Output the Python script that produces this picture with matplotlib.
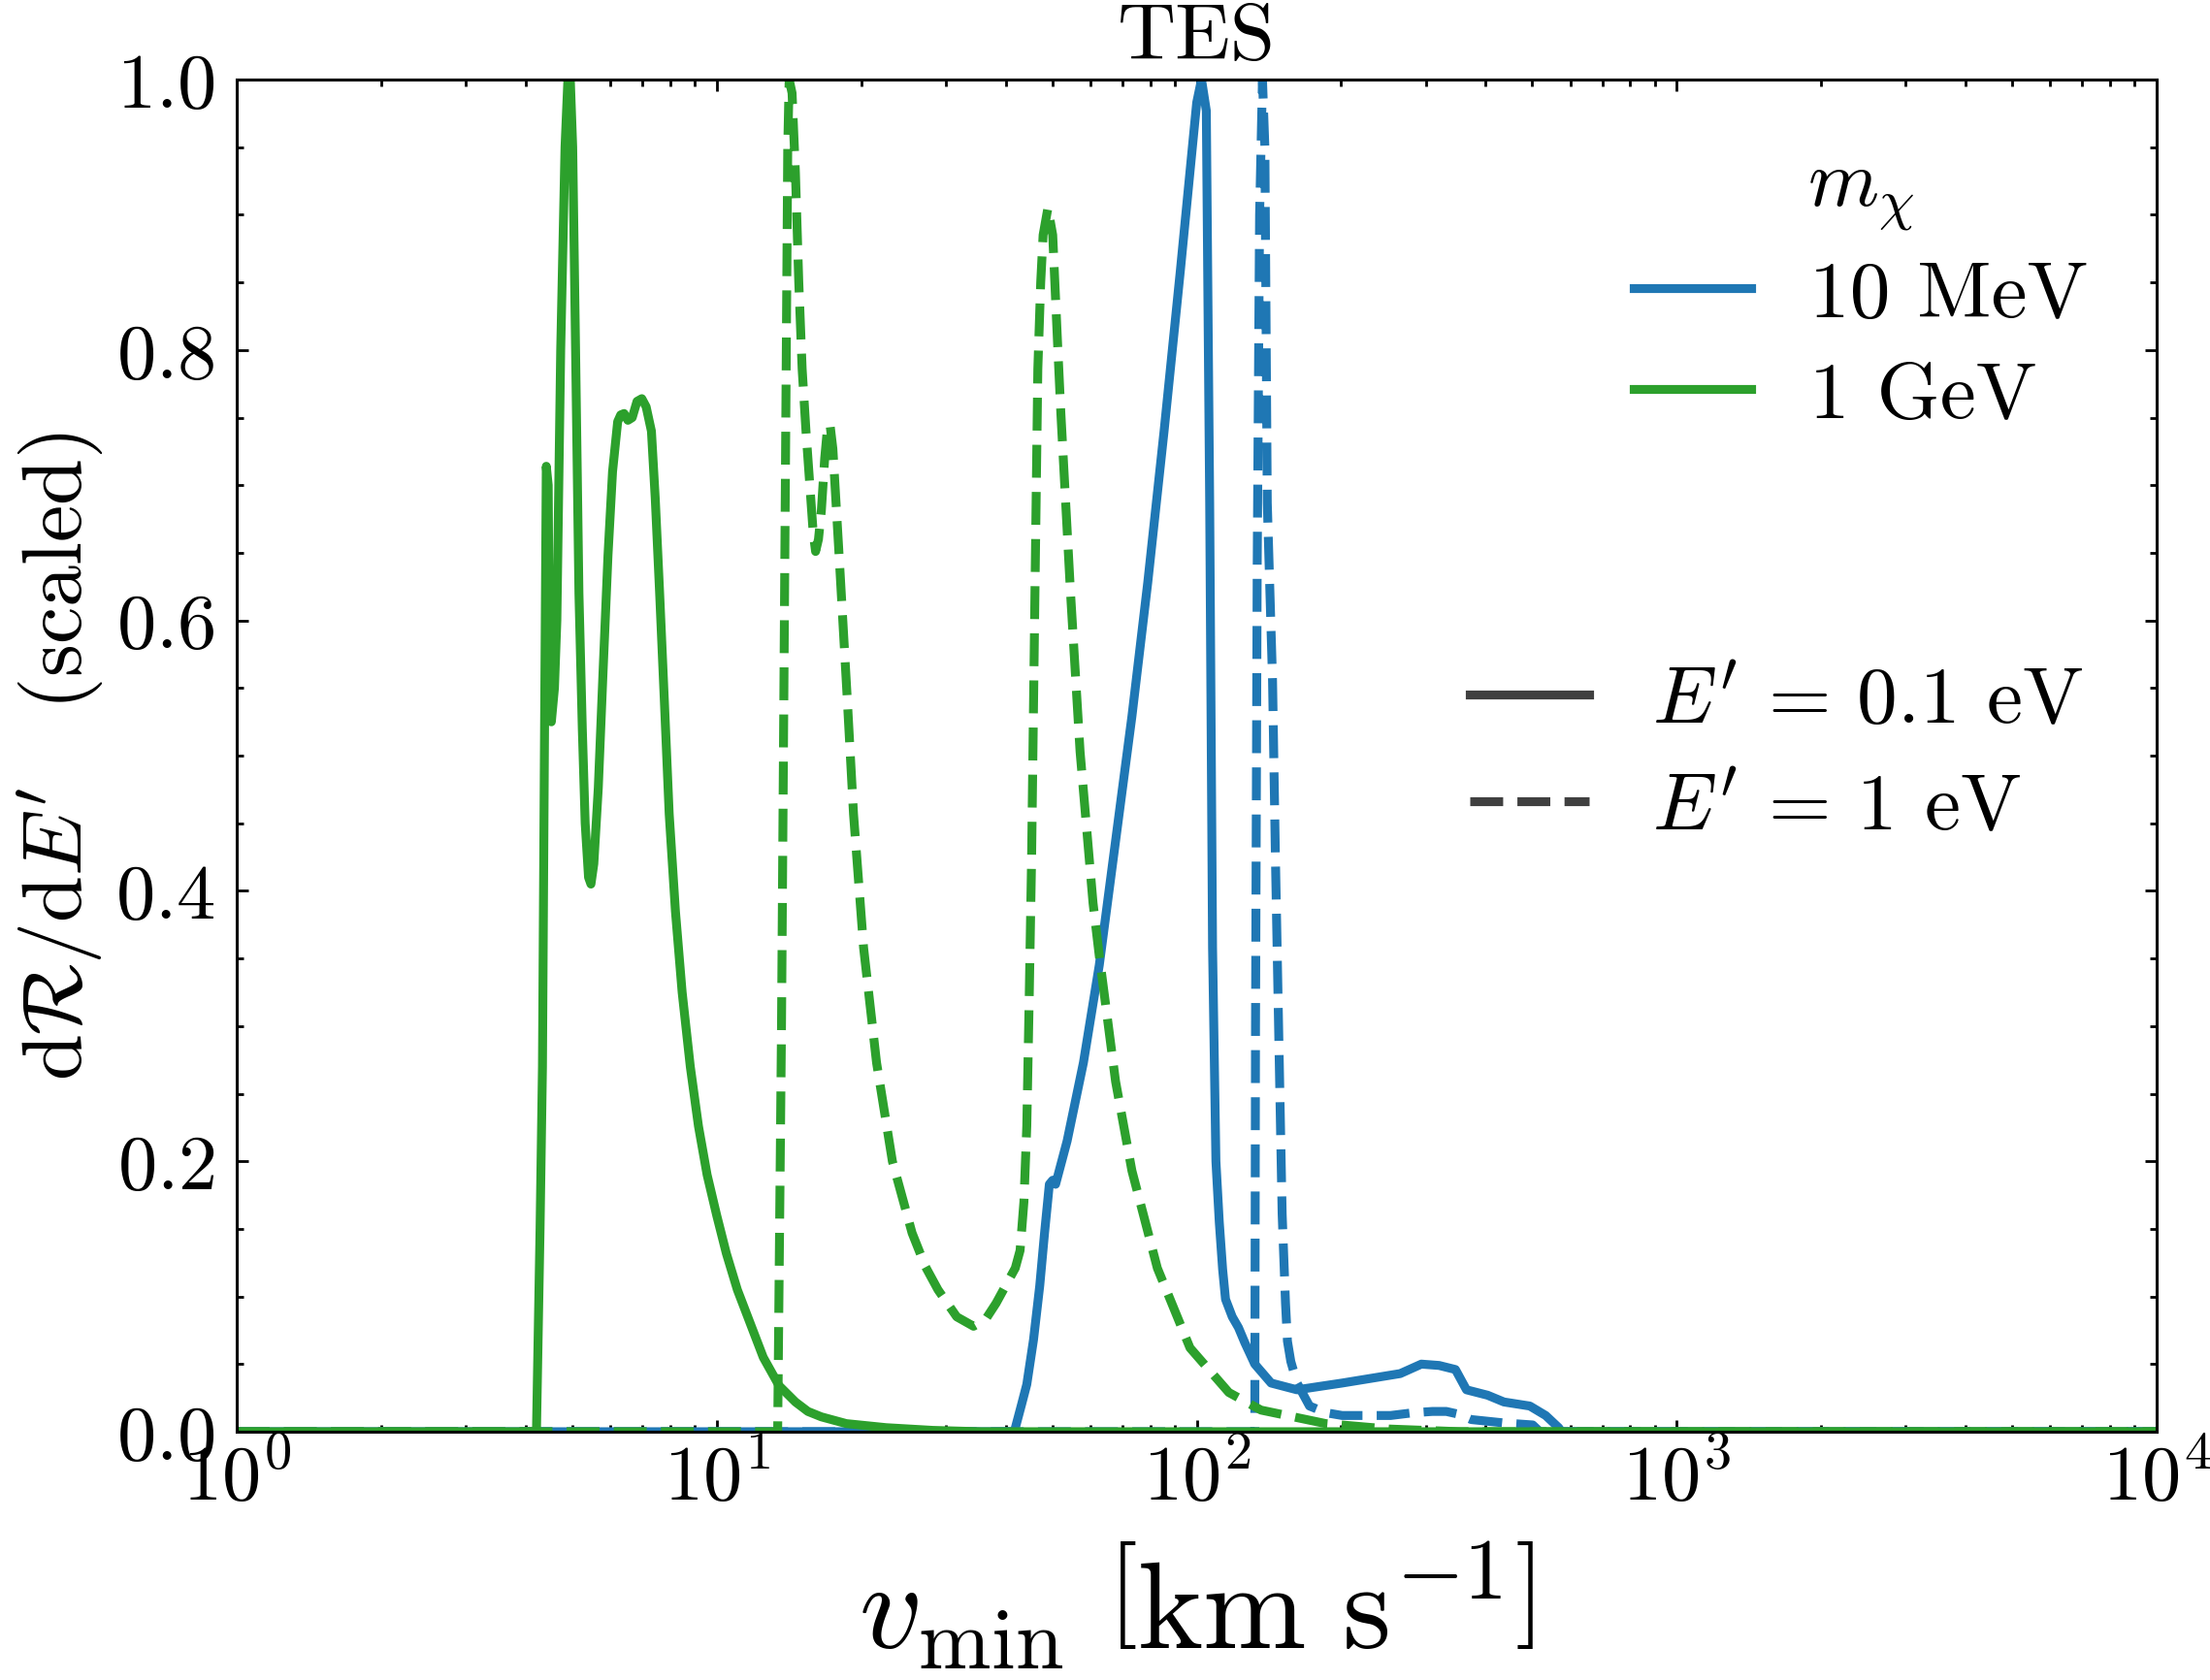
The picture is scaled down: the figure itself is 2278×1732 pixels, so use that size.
import numpy as np
import matplotlib
matplotlib.use('Agg')
import matplotlib.pyplot as plt
from matplotlib.lines import Line2D
from matplotlib.ticker import LogLocator, MultipleLocator, NullFormatter

plt.rcParams['font.family'] = 'serif'
plt.rcParams['font.serif'] = ['cmr10']
plt.rcParams['mathtext.fontset'] = 'cm'
plt.rcParams['axes.formatter.use_mathtext'] = True
plt.rcParams['axes.unicode_minus'] = False

# data: log10(v_min / km s^-1) and scaled rate
# 1 GeV, E' = 0.1 eV
lv_g1 = [0.0, 0.6245, 0.632, 0.637, 0.641, 0.645, 0.649, 0.652, 0.6555, 0.662, 0.667,
         0.675, 0.684, 0.690, 0.695, 0.700, 0.706, 0.713, 0.720, 0.726, 0.733, 0.738,
         0.744, 0.7533, 0.763, 0.7735, 0.783, 0.7937, 0.800, 0.807, 0.815, 0.824, 0.834,
         0.844, 0.853, 0.864, 0.872, 0.881, 0.891, 0.901, 0.914, 0.928, 0.945, 0.962,
         0.980, 1.0, 1.02, 1.043, 1.07, 1.097, 1.13, 1.164, 1.19, 1.218, 1.27, 1.353,
         1.45, 1.55, 4.0]
r_g1 = [0.0, 0.0, 0.15, 0.27, 0.50, 0.714, 0.70, 0.53, 0.525, 0.55, 0.60,
        0.80, 0.95, 1.0, 1.0, 0.95, 0.80, 0.62, 0.52, 0.45, 0.41, 0.405,
        0.42, 0.476, 0.56, 0.648, 0.71, 0.747, 0.752, 0.753, 0.748, 0.75, 0.762,
        0.764, 0.758, 0.74, 0.69, 0.621, 0.54, 0.457, 0.385, 0.325, 0.27, 0.226,
        0.19, 0.16, 0.132, 0.105, 0.08, 0.055, 0.034, 0.022, 0.015, 0.011, 0.006, 0.003,
        0.001, 0.0, 0.0]

# 1 GeV, E' = 1 eV
lv_g2 = [0.0, 1.127, 1.135, 1.142, 1.148, 1.151, 1.157, 1.164, 1.171, 1.178, 1.186,
         1.194, 1.201, 1.206, 1.212, 1.218, 1.225, 1.231, 1.236, 1.242, 1.255, 1.272,
         1.285, 1.306, 1.333, 1.366, 1.407, 1.435, 1.461, 1.50, 1.535, 1.56, 1.582,
         1.602, 1.622, 1.632, 1.640, 1.646, 1.651, 1.656, 1.663, 1.669, 1.675, 1.680,
         1.690, 1.700, 1.710, 1.717, 1.737, 1.757, 1.784, 1.797, 1.831, 1.865, 1.918,
         1.986, 2.067, 2.134, 2.269, 2.4, 2.55, 4.0]
r_g2 = [0.0, 0.0, 0.30, 0.65, 0.95, 1.0, 0.99, 0.931, 0.85, 0.786, 0.74,
        0.70, 0.665, 0.651, 0.66, 0.681, 0.72, 0.743, 0.745, 0.727, 0.648, 0.542,
        0.457, 0.358, 0.273, 0.200, 0.147, 0.122, 0.105, 0.085, 0.078, 0.083, 0.095,
        0.108, 0.121, 0.134, 0.17, 0.226, 0.32, 0.424, 0.621, 0.786, 0.85, 0.885,
        0.905, 0.885, 0.806, 0.753, 0.621, 0.503, 0.391, 0.352, 0.259, 0.193, 0.121,
        0.062, 0.029, 0.016, 0.006, 0.002, 0.0, 0.0]

# 10 MeV, E' = 0.1 eV
lv_b1 = [0.0, 1.620, 1.635, 1.646, 1.660, 1.673, 1.683, 1.693, 1.700, 1.706, 1.715,
         1.730, 1.764, 1.797, 1.831, 1.865, 1.898, 1.932, 1.966, 2.000, 2.010, 2.020,
         2.027, 2.033, 2.040, 2.047, 2.054, 2.060, 2.074, 2.087, 2.10, 2.121, 2.155,
         2.209, 2.303, 2.424, 2.468, 2.505, 2.539, 2.562, 2.606, 2.640, 2.694, 2.727,
         2.754, 2.76, 4.0]
r_b1 = [0.0, 0.0, 0.02, 0.035, 0.068, 0.108, 0.147, 0.183, 0.186, 0.183, 0.195,
        0.215, 0.273, 0.345, 0.437, 0.529, 0.628, 0.74, 0.859, 0.983, 1.0, 0.977,
        0.687, 0.358, 0.20, 0.155, 0.12, 0.098, 0.085, 0.077, 0.066, 0.050, 0.036,
        0.031, 0.036, 0.043, 0.050, 0.049, 0.046, 0.031, 0.027, 0.022, 0.019, 0.012,
        0.003, 0.0, 0.0]

# 10 MeV, E' = 1 eV
lv_b2 = [0.0, 2.121, 2.1225, 2.126, 2.131, 2.137, 2.142, 2.147, 2.158, 2.164, 2.171,
         2.178, 2.185, 2.189, 2.196, 2.209, 2.235, 2.27, 2.303, 2.404, 2.45, 2.491,
         2.52, 2.545, 2.572, 2.640, 2.700, 2.715, 4.0]
r_b2 = [0.0, 0.0, 0.30, 0.64, 0.90, 1.0, 0.95, 0.687, 0.555, 0.424, 0.292,
        0.161, 0.095, 0.067, 0.052, 0.036, 0.019, 0.014, 0.012, 0.012, 0.014, 0.015,
        0.015, 0.013, 0.009, 0.0065, 0.005, 0.0, 0.0]

c_blue = '#1f77b4'
c_green = '#2ca02c'
lw = 3.3

fig, ax = plt.subplots(figsize=(11.39, 8.665), dpi=200)
fig.subplots_adjust(left=0.1071, right=0.9759, bottom=0.1477, top=0.9521)

ax.plot(10**np.array(lv_b1), r_b1, color=c_blue, lw=lw, ls='-')
ax.plot(10**np.array(lv_b2), r_b2, color=c_blue, lw=lw, ls='--')
ax.plot(10**np.array(lv_g1), r_g1, color=c_green, lw=lw, ls='-')
ax.plot(10**np.array(lv_g2), r_g2, color=c_green, lw=lw, ls='--')

ax.set_xscale('log')
ax.set_xlim(1, 1e4)
ax.set_ylim(0, 1)
ax.yaxis.set_major_locator(MultipleLocator(0.2))
ax.yaxis.set_minor_locator(MultipleLocator(0.05))
ax.xaxis.set_minor_locator(LogLocator(base=10, subs=np.arange(2, 10), numticks=20))
ax.xaxis.set_minor_formatter(NullFormatter())

ax.tick_params(which='both', direction='in', top=True, right=True, width=1.0)
ax.tick_params(which='major', length=4.3)
ax.tick_params(which='minor', length=2.5)
ax.tick_params(axis='y', which='major', labelsize=29, pad=8)
ax.tick_params(axis='x', which='major', labelsize=29, pad=4)
for s in ax.spines.values():
    s.set_linewidth(1.1)

ax.set_xlabel(r'$v_{\rm min}\ \left[{\rm km\ s^{-1}}\right]$', fontsize=46, labelpad=9)
ax.set_ylabel(r'$\mathrm{d}\mathcal{R}/\mathrm{d}E^{\prime}\quad$(scaled)', fontsize=31)
ax.set_title('TES', fontsize=30, pad=8)

mass_handles = [Line2D([], [], color=c_blue, lw=lw),
                Line2D([], [], color=c_green, lw=lw)]
leg1 = ax.legend(mass_handles, ['10 MeV', '1 GeV'], title=r'$m_\chi$',
                 loc='upper right', frameon=False, fontsize=30, title_fontsize=30,
                 handlelength=1.45, handletextpad=0.72, labelspacing=0.36,
                 borderaxespad=0.45)
ax.add_artist(leg1)

style_handles = [Line2D([], [], color='0.25', lw=lw, ls='-'),
                 Line2D([], [], color='0.25', lw=lw, ls='--')]
ax.legend(style_handles, [r"$E^{\prime}\,=\,0.1$ eV", r"$E^{\prime}\,=\,1$ eV"],
          loc='center right', frameon=False, fontsize=30,
          handlelength=1.48, handletextpad=0.78, labelspacing=0.43)

fig.savefig('out.png', dpi=200)
